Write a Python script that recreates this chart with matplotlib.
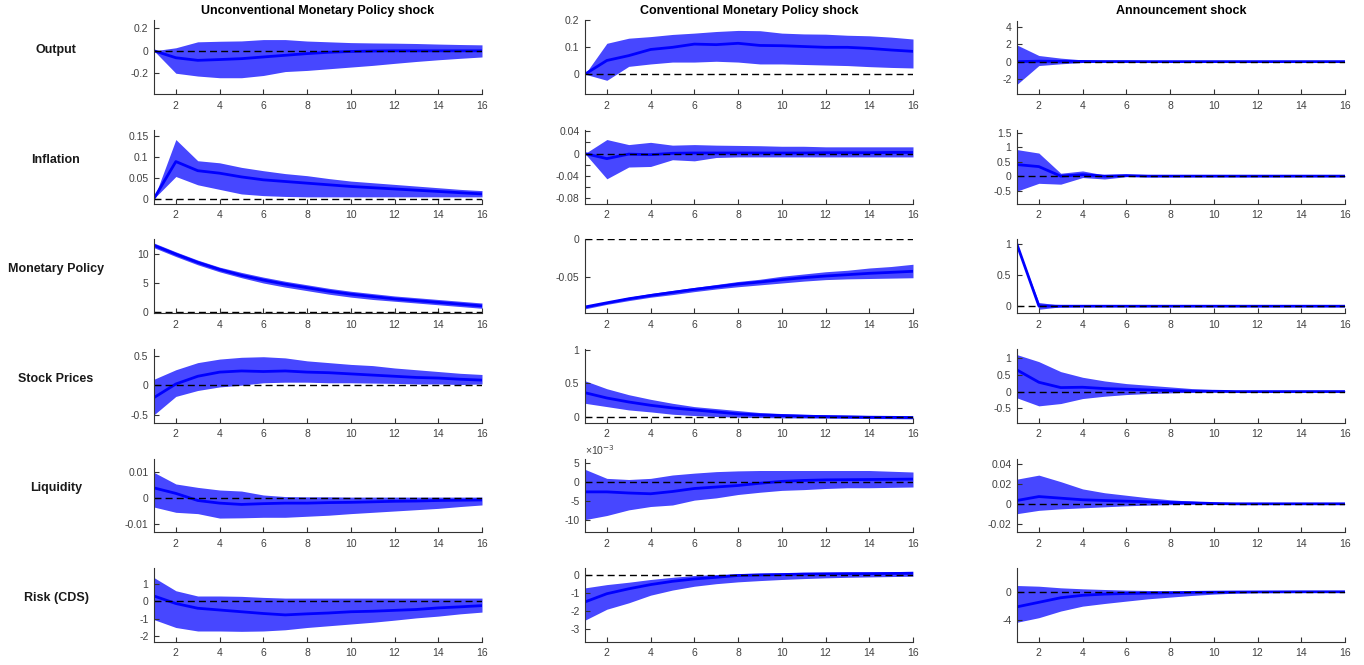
import numpy as np
import matplotlib
matplotlib.use("Agg")
import matplotlib.pyplot as plt
from matplotlib.ticker import FuncFormatter

plt.rcParams['font.family'] = ['Liberation Sans', 'DejaVu Sans']
plt.rcParams['axes.unicode_minus'] = False

horizon = np.arange(1, 17)

col_titles = ["Unconventional Monetary Policy shock", "Conventional Monetary Policy shock", "Announcement shock"]
row_names = ["Output", "Inflation", "Monetary Policy", "Stock Prices", "Liquidity", "Risk (CDS)"]

# --- unconventional MP shock (median, upper, lower) ---
u_out_m = [0, -0.062, -0.085, -0.078, -0.07, -0.055, -0.04, -0.025, -0.013, -0.006, -0.002, 0, 0, 0, 0, 0]
u_out_h = [0, 0.027, 0.08, 0.085, 0.088, 0.1, 0.1, 0.087, 0.08, 0.073, 0.07, 0.068, 0.065, 0.06, 0.056, 0.053]
u_out_l = [0, -0.2, -0.225, -0.24, -0.24, -0.22, -0.185, -0.175, -0.16, -0.145, -0.13, -0.112, -0.095, -0.08, -0.067, -0.055]

u_inf_m = [0, 0.089, 0.067, 0.061, 0.052, 0.045, 0.041, 0.037, 0.033, 0.029, 0.026, 0.023, 0.02, 0.017, 0.014, 0.011]
u_inf_h = [0, 0.142, 0.091, 0.086, 0.075, 0.067, 0.06, 0.055, 0.048, 0.042, 0.038, 0.034, 0.03, 0.026, 0.022, 0.019]
u_inf_l = [0, 0.053, 0.033, 0.022, 0.011, 0.007, 0.005, 0.004, 0.004, 0.004, 0.004, 0.004, 0.004, 0.004, 0.004, 0.004]

u_mp_m = [11.4, 9.9, 8.5, 7.3, 6.3, 5.5, 4.8, 4.2, 3.6, 3.1, 2.7, 2.3, 2.0, 1.7, 1.4, 1.1]
u_mp_h = [11.8, 10.3, 8.9, 7.7, 6.8, 6.0, 5.3, 4.7, 4.1, 3.6, 3.2, 2.8, 2.5, 2.2, 1.9, 1.6]
u_mp_l = [11.0, 9.5, 8.1, 6.9, 5.9, 5.0, 4.3, 3.7, 3.1, 2.6, 2.2, 1.9, 1.6, 1.3, 1.0, 0.7]

u_stk_m = [-0.21, 0.02, 0.15, 0.22, 0.24, 0.23, 0.24, 0.22, 0.21, 0.19, 0.17, 0.15, 0.13, 0.12, 0.1, 0.085]
u_stk_h = [0.1, 0.26, 0.38, 0.44, 0.47, 0.48, 0.46, 0.41, 0.38, 0.35, 0.33, 0.29, 0.26, 0.23, 0.2, 0.18]
u_stk_l = [-0.5, -0.19, -0.09, -0.03, 0.0, 0.04, 0.05, 0.05, 0.04, 0.04, 0.035, 0.03, 0.02, 0.02, 0.01, 0.02]

u_liq_m = [0.0038, 0.0017, -0.001, -0.002, -0.0025, -0.0022, -0.002, -0.002, -0.0018, -0.0017, -0.0015, -0.0013, -0.0012, -0.001, -0.0009, -0.0008]
u_liq_h = [0.0097, 0.0053, 0.004, 0.003, 0.0026, 0.0011, 0.0005, 0.0004, 0.0004, 0.0003, 0.0003, 0.0003, 0.0003, 0.0003, 0.0003, 0.0003]
u_liq_l = [-0.0035, -0.0055, -0.006, -0.0077, -0.0076, -0.0074, -0.0074, -0.007, -0.0066, -0.006, -0.0055, -0.005, -0.0045, -0.004, -0.0033, -0.0027]

u_cds_m = [0.3, -0.13, -0.4, -0.5, -0.6, -0.7, -0.78, -0.72, -0.67, -0.6, -0.57, -0.52, -0.47, -0.38, -0.32, -0.25]
u_cds_h = [1.35, 0.6, 0.3, 0.3, 0.28, 0.22, 0.18, 0.18, 0.18, 0.18, 0.18, 0.18, 0.18, 0.18, 0.18, 0.18]
u_cds_l = [-1.05, -1.5, -1.7, -1.7, -1.72, -1.7, -1.63, -1.5, -1.4, -1.3, -1.2, -1.08, -0.95, -0.85, -0.72, -0.62]

# --- conventional MP shock ---
c_out_m = [0, 0.051, 0.069, 0.092, 0.1, 0.112, 0.11, 0.115, 0.107, 0.106, 0.103, 0.1, 0.1, 0.096, 0.09, 0.085]
c_out_h = [0, 0.115, 0.134, 0.14, 0.148, 0.153, 0.159, 0.163, 0.162, 0.153, 0.15, 0.149, 0.145, 0.143, 0.138, 0.131]
c_out_l = [0, -0.023, 0.029, 0.038, 0.045, 0.045, 0.048, 0.045, 0.038, 0.038, 0.036, 0.034, 0.032, 0.028, 0.025, 0.023]

c_inf_m = [0, -0.009, -0.001, -0.002, 0.0005, 0.001, 0.001, 0.001, 0.001, 0.001, 0.001, 0.0015, 0.0015, 0.0015, 0.002, 0.002]
c_inf_h = [0, 0.025, 0.016, 0.02, 0.015, 0.016, 0.015, 0.0145, 0.014, 0.013, 0.013, 0.012, 0.012, 0.012, 0.012, 0.012]
c_inf_l = [0, -0.045, -0.024, -0.023, -0.011, -0.013, -0.007, -0.006, -0.006, -0.006, -0.006, -0.006, -0.006, -0.006, -0.006, -0.006]

c_mp_m = [-0.09, -0.0844, -0.079, -0.0746, -0.0705, -0.0665, -0.063, -0.0594, -0.0567, -0.0536, -0.0509, -0.0487, -0.0469, -0.0451, -0.0438, -0.0424]
c_mp_h = [-0.0885, -0.083, -0.077, -0.072, -0.068, -0.064, -0.06, -0.056, -0.053, -0.049, -0.046, -0.043, -0.041, -0.038, -0.036, -0.033]
c_mp_l = [-0.0925, -0.0865, -0.0815, -0.077, -0.0735, -0.0695, -0.066, -0.063, -0.0605, -0.058, -0.0555, -0.0535, -0.0525, -0.052, -0.0515, -0.051]

c_stk_m = [0.36, 0.28, 0.22, 0.17, 0.13, 0.1, 0.07, 0.04, 0.025, 0.015, 0.005, 0.0, -0.005, -0.01, -0.012, -0.015]
c_stk_h = [0.54, 0.42, 0.33, 0.26, 0.2, 0.15, 0.12, 0.09, 0.06, 0.045, 0.035, 0.025, 0.02, 0.015, 0.01, 0.01]
c_stk_l = [0.2, 0.15, 0.1, 0.07, 0.035, 0.015, 0.0, -0.01, -0.015, -0.02, -0.022, -0.025, -0.028, -0.03, -0.032, -0.035]

# liquidity response to conventional shock, in units of 1e-3
c_liq_m = [-2.6, -2.6, -2.9, -3.1, -2.5, -1.7, -1.3, -0.9, -0.3, 0.2, 0.45, 0.6, 0.65, 0.7, 0.75, 0.8]
c_liq_h = [3.4, 1.0, 0.7, 1.0, 1.9, 2.4, 2.8, 3.0, 3.1, 3.1, 3.1, 3.1, 3.1, 3.1, 2.9, 2.7]
c_liq_l = [-10.0, -8.9, -7.4, -6.5, -6.1, -4.8, -4.2, -3.3, -2.7, -2.2, -2.0, -1.7, -1.5, -1.5, -1.4, -1.3]

c_cds_m = [-1.5, -1.05, -0.78, -0.55, -0.37, -0.24, -0.15, -0.05, -0.02, 0.0, 0.03, 0.04, 0.05, 0.05, 0.06, 0.07]
c_cds_h = [-0.73, -0.55, -0.42, -0.27, -0.15, -0.05, 0.0, 0.05, 0.08, 0.1, 0.12, 0.13, 0.14, 0.15, 0.16, 0.18]
c_cds_l = [-2.5, -1.9, -1.55, -1.13, -0.85, -0.64, -0.5, -0.4, -0.33, -0.27, -0.22, -0.18, -0.15, -0.13, -0.11, -0.09]

# --- announcement shock ---
a_out_m = [0, 0.05, 0.03, 0.02, 0.01, 0.01, 0, 0, 0, 0, 0, 0, 0, 0, 0, 0]
a_out_h = [1.9, 0.7, 0.4, 0.2, 0.1, 0.05, 0.02, 0.02, 0.02, 0.02, 0.02, 0.02, 0.02, 0.02, 0.02, 0.02]
a_out_l = [-2.6, -0.45, -0.25, -0.1, -0.05, -0.02, -0.02, -0.02, -0.02, -0.02, -0.02, -0.02, -0.02, -0.02, -0.02, -0.02]

a_inf_m = [0.4, 0.33, 0.0, 0.05, 0.0, 0.02, 0, 0, 0, 0, 0, 0, 0, 0, 0, 0]
a_inf_h = [0.92, 0.8, 0.1, 0.18, 0.04, 0.05, 0.02, 0.02, 0.02, 0.02, 0.02, 0.02, 0.02, 0.02, 0.02, 0.02]
a_inf_l = [-0.52, -0.25, -0.28, -0.05, -0.1, -0.02, -0.02, -0.02, -0.02, -0.02, -0.02, -0.02, -0.02, -0.02, -0.02, -0.02]

a_mp_m = [1.0, 0.005, 0, 0, 0, 0, 0, 0, 0, 0, 0, 0, 0, 0, 0, 0]
a_mp_h = [1.0, 0.06, 0.015, 0.005, 0.005, 0.005, 0.005, 0.005, 0.005, 0.005, 0.005, 0.005, 0.005, 0.005, 0.005, 0.005]
a_mp_l = [1.0, -0.05, -0.01, -0.003, -0.003, -0.003, -0.003, -0.003, -0.003, -0.003, -0.003, -0.003, -0.003, -0.003, -0.003, -0.003]

a_stk_m = [0.65, 0.28, 0.12, 0.13, 0.09, 0.07, 0.05, 0.03, 0.01, 0.01, 0, 0, 0, 0, 0, 0]
a_stk_h = [1.11, 0.9, 0.6, 0.43, 0.32, 0.24, 0.19, 0.14, 0.09, 0.06, 0.03, 0.03, 0.02, 0.02, 0.02, 0.02]
a_stk_l = [-0.19, -0.43, -0.36, -0.21, -0.14, -0.09, -0.06, -0.04, -0.02, -0.01, -0.01, -0.01, -0.01, -0.01, -0.01, -0.01]

a_liq_m = [0.0033, 0.0072, 0.0056, 0.004, 0.0033, 0.0026, 0.002, 0.0013, 0.001, 0.0003, 0, 0, 0, 0, 0, 0]
a_liq_h = [0.0245, 0.0285, 0.022, 0.0148, 0.011, 0.0085, 0.006, 0.004, 0.0026, 0.0016, 0.0008, 0.0005, 0.0004, 0.0003, 0.0003, 0.0003]
a_liq_l = [-0.0098, -0.0065, -0.005, -0.004, -0.003, -0.002, -0.0013, -0.0008, -0.0005, -0.0004, -0.0003, -0.0002, -0.0002, -0.0002, -0.0002, -0.0002]

a_cds_m = [-2.15, -1.5, -0.85, -0.5, -0.33, -0.24, -0.19, -0.14, -0.08, -0.05, -0.03, -0.02, -0.01, 0, 0, 0]
a_cds_h = [0.9, 0.8, 0.57, 0.43, 0.33, 0.24, 0.19, 0.14, 0.1, 0.05, 0.04, 0.03, 0.02, 0.02, 0.02, 0.02]
a_cds_l = [-4.35, -3.7, -2.75, -2.05, -1.67, -1.33, -1.0, -0.76, -0.52, -0.33, -0.19, -0.1, -0.07, -0.05, -0.05, -0.05]

# y limits and tick values per panel (rows x cols)
ylims = [
    [(-0.385, 0.27), (-0.074, 0.2), (-3.7, 4.7)],
    [(-0.012, 0.165), (-0.089, 0.042), (-0.95, 1.6)],
    [(-0.1, 12.4), (-0.098, 0.0), (-0.11, 1.08)],
    [(-0.63, 0.61), (-0.09, 1.02), (-0.93, 1.28)],
    [(-0.013, 0.015), (-13.3, 6.3), (-0.028, 0.045)],
    [(-2.3, 1.9), (-3.67, 0.36), (-7.1, 3.4)],
]
yticks = [
    [[-0.2, 0, 0.2], [0, 0.1, 0.2], [-2, 0, 2, 4]],
    [[0, 0.05, 0.1, 0.15], [-0.08, -0.04, 0, 0.04], [-0.5, 0, 0.5, 1, 1.5]],
    [[0, 5, 10], [-0.05, 0], [0, 0.5, 1]],
    [[-0.5, 0, 0.5], [0, 0.5, 1], [-0.5, 0, 0.5, 1]],
    [[-0.01, 0, 0.01], [-10, -5, 0, 5], [-0.02, 0, 0.02, 0.04]],
    [[-2, -1, 0, 1], [-3, -2, -1, 0], [-4, 0]],
]

series = [
    [(u_out_m, u_out_h, u_out_l), (c_out_m, c_out_h, c_out_l), (a_out_m, a_out_h, a_out_l)],
    [(u_inf_m, u_inf_h, u_inf_l), (c_inf_m, c_inf_h, c_inf_l), (a_inf_m, a_inf_h, a_inf_l)],
    [(u_mp_m, u_mp_h, u_mp_l), (c_mp_m, c_mp_h, c_mp_l), (a_mp_m, a_mp_h, a_mp_l)],
    [(u_stk_m, u_stk_h, u_stk_l), (c_stk_m, c_stk_h, c_stk_l), (a_stk_m, a_stk_h, a_stk_l)],
    [(u_liq_m, u_liq_h, u_liq_l), (c_liq_m, c_liq_h, c_liq_l), (a_liq_m, a_liq_h, a_liq_l)],
    [(u_cds_m, u_cds_h, u_cds_l), (c_cds_m, c_cds_h, c_cds_l), (a_cds_m, a_cds_h, a_cds_l)],
]

W, H = 1364, 665
fig = plt.figure(figsize=(W / 100, H / 100), dpi=100)

col_left = [154, 585, 1017]
ax_w = 328
row_top = [20.5, 130, 239.5, 349, 458.5, 568]
ax_h = 73.5
grey = '#333333'


def fmt(v, pos):
    if abs(v) < 1e-12:
        return '0'
    return '%g' % v


for r in range(6):
    for c in range(3):
        l, t = col_left[c], row_top[r]
        ax = fig.add_axes([l / W, 1 - (t + ax_h) / H, ax_w / W, ax_h / H])
        med, hi, lo = series[r][c]
        ax.fill_between(horizon, lo, hi, color=(0.0, 0.0, 1.0), alpha=0.72, linewidth=0)
        ax.plot(horizon, med, color='blue', lw=2)
        ax.axhline(0, color='black', lw=1, linestyle=(0, (5, 3)))

        ax.set_xlim(1, 16)
        ax.set_ylim(*ylims[r][c])
        ax.set_xticks(np.arange(2, 17, 2))
        ax.set_yticks(yticks[r][c])
        ax.yaxis.set_major_formatter(FuncFormatter(fmt))
        if r == 1 and c == 1:
            ax.set_yticks([-0.06, -0.02, 0.02], minor=True)
            ax.tick_params(axis='y', which='minor', direction='in', length=3.5, width=0.8, color=grey)

        for s in ['top', 'right']:
            ax.spines[s].set_visible(False)
        for s in ['left', 'bottom']:
            ax.spines[s].set_color(grey)
            ax.spines[s].set_linewidth(0.8)
        ax.tick_params(direction='in', length=3.5, width=0.8, color=grey,
                       labelcolor='#404040', labelsize=7.5)
        ax.tick_params(axis='x', pad=5)
        ax.tick_params(axis='y', pad=4)

        if r == 4 and c == 1:
            ax.text(0.0, 1.02, r'×10$^{-3}$', transform=ax.transAxes, fontsize=7.5,
                    color='#404040', ha='left', va='bottom')

        if c == 0:
            fig.text(56 / W, 1 - (t + ax_h / 2 - 7) / H, row_names[r],
                     fontsize=9, fontweight='bold', ha='center', va='center', color='#1a1a1a')
        if r == 0:
            fig.text((l + ax_w / 2) / W, 1 - 10.7 / H, col_titles[c],
                     fontsize=9, fontweight='bold', ha='center', va='center', color='black')

fig.savefig("out.png", dpi=100)
